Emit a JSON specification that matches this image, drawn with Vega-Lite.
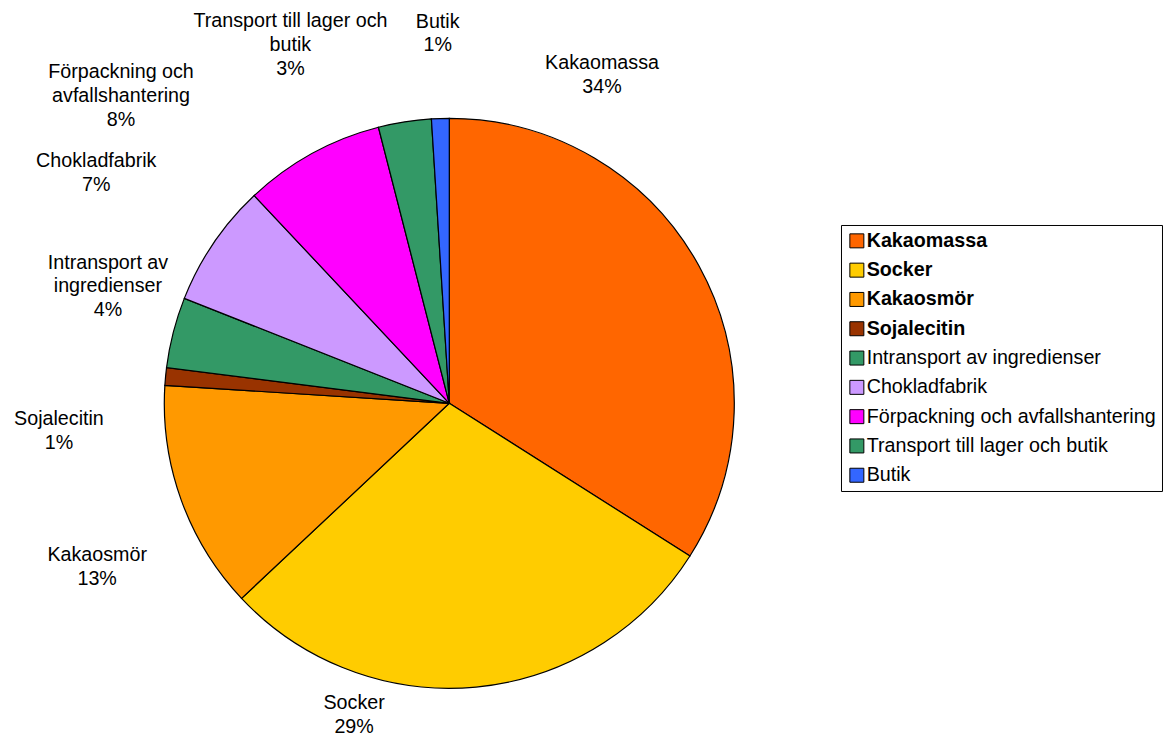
{
  "$schema": "https://vega.github.io/schema/vega-lite/v6.json",
  "width": 898.6,
  "height": 666.6,
  "autosize": {"type": "none"},
  "padding": {"left": 0, "top": 70, "right": 265, "bottom": 0},
  "background": "white",
  "config": {"font": "Liberation Sans", "view": {"stroke": null}},
  "data": {
    "values": [
      {"part": "Kakaomassa", "share": 34, "label": "Kakaomassa\n34%"},
      {"part": "Socker", "share": 29, "label": "Socker\n29%"},
      {"part": "Kakaosmör", "share": 13, "label": "Kakaosmör\n13%"},
      {"part": "Sojalecitin", "share": 1, "label": "Sojalecitin\n1%"},
      {"part": "Intransport av ingredienser", "share": 4, "label": "Intransport av\ningredienser\n4%"},
      {"part": "Chokladfabrik", "share": 7, "label": "Chokladfabrik\n7%"},
      {"part": "Förpackning och avfallshantering", "share": 8, "label": "Förpackning och\navfallshantering\n8%"},
      {"part": "Transport till lager och butik", "share": 3, "label": "Transport till lager och\nbutik\n3%"},
      {"part": "Butik", "share": 1, "label": "Butik\n1%"}
    ]
  },
  "transform": [{"window": [{"op": "row_number", "as": "rank"}]}],
  "encoding": {
    "theta": {"field": "share", "type": "quantitative", "stack": true},
    "order": {"field": "rank", "type": "quantitative"}
  },
  "layer": [
    {
      "mark": {"type": "arc", "outerRadius": 285, "stroke": "black", "strokeWidth": 1.2},
      "encoding": {
        "color": {
          "field": "part",
          "type": "nominal",
          "scale": {
            "domain": ["Kakaomassa", "Socker", "Kakaosmör", "Sojalecitin", "Intransport av ingredienser", "Chokladfabrik", "Förpackning och avfallshantering", "Transport till lager och butik", "Butik"],
            "range": ["#FF6600", "#FFCC00", "#FF9900", "#993300", "#339966", "#CC99FF", "#FF00FF", "#339966", "#3366FF"]
          },
          "legend": {
            "title": null,
            "orient": "none",
            "legendX": 841,
            "legendY": 155,
            "symbolType": "square",
            "symbolSize": 196,
            "symbolStrokeColor": "black",
            "symbolStrokeWidth": 1,
            "symbolOpacity": 1,
            "labelFont": "Liberation Sans",
            "labelFontSize": 19.7,
            "labelColor": "black",
            "labelLimit": 400,
            "labelOffset": 0,
            "rowPadding": 8.3,
            "padding": 6,
            "strokeColor": "black",
            "encode": {
              "labels": {
                "update": {
                  "fontWeight": {"signal": "indexof(['Kakaomassa','Socker','Kakaosmör','Sojalecitin'], datum.label) >= 0 ? 'bold' : 'normal'"}
                }
              }
            }
          }
        }
      }
    },
    {
      "mark": {
        "type": "text",
        "radius": 370,
        "lineBreak": "\n",
        "font": "Liberation Sans",
        "fontSize": 19.7,
        "lineHeight": 23.7,
        "color": "black",
        "align": "center",
        "baseline": "middle",
        "dx": {"expr": "[-171.5, -130, -4, -22, 17, -47, -150, -101, 0][datum.rank - 1]"},
        "dy": {"expr": "[-161.9, -68.6, 26.6, 50.7, -48.7, -33.9, -6.7, -16.7, -11.9][datum.rank - 1]"}
      },
      "encoding": {
        "text": {"field": "label", "type": "nominal"},
        "detail": {"field": "part", "type": "nominal"}
      }
    }
  ]
}
